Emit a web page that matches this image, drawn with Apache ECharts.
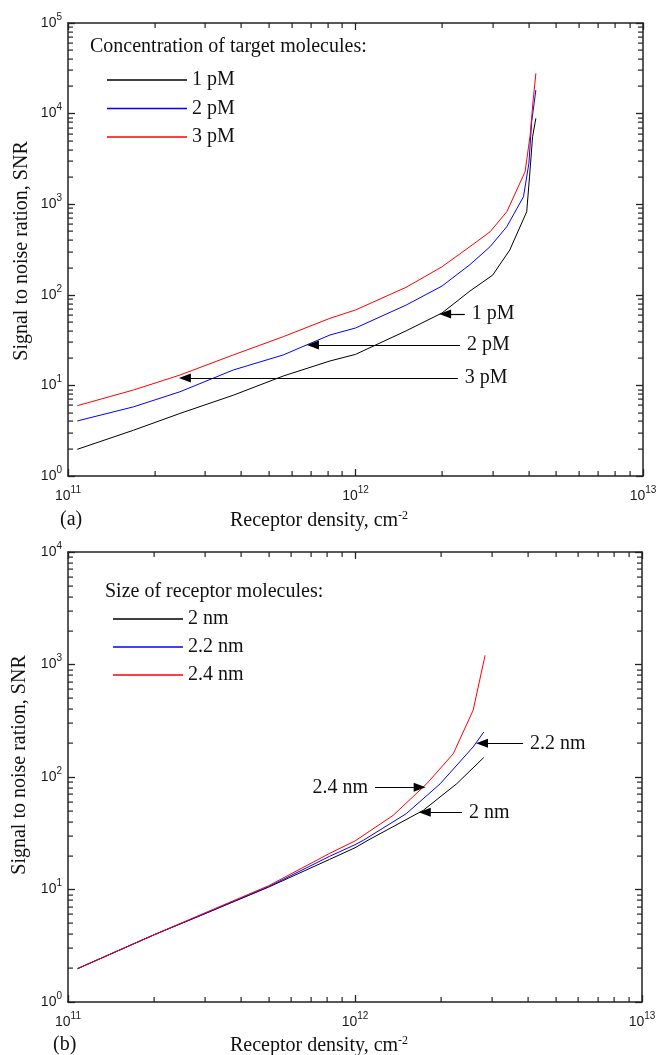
<!DOCTYPE html>
<html>
<head>
<meta charset="utf-8">
<script src="https://cdn.jsdelivr.net/npm/echarts@6/dist/echarts.min.js"></script>
<style>
  html, body { margin: 0; padding: 0; background: #fff; }
  #main { width: 657px; height: 1055px; }
</style>
</head>
<body>
<div id="main"></div>
<script>
// (a) concentration of target molecules
const aNames = ['1 pM', '2 pM', '3 pM']
const a1X = [1.077e11, 1.69e11, 2.45e11, 3.76e11, 5.61e11, 8.15e11, 1e12, 1.5e12, 2e12, 2.5e12, 3e12, 3.44e12, 3.94e12, 4.03e12, 4.13e12, 4.24e12]
const a1Y = [1.97, 3.2, 4.9, 7.8, 12.7, 18.6, 22, 40, 63, 110, 165, 312, 826, 2000, 5560, 8870]
const a2X = [1.077e11, 1.69e11, 2.45e11, 3.76e11, 5.61e11, 8.15e11, 1e12, 1.5e12, 2e12, 2.5e12, 2.94e12, 3.36e12, 3.84e12, 4.01e12, 4.10e12, 4.24e12]
const a2Y = [4.05, 5.8, 8.5, 14.8, 21.7, 36, 43, 77, 125, 215, 340, 565, 1210, 2830, 8140, 18200]
const a3X = [1.077e11, 1.69e11, 2.45e11, 3.76e11, 5.61e11, 8.15e11, 1e12, 1.5e12, 2e12, 2.5e12, 2.94e12, 3.36e12, 3.89e12, 4.05e12, 4.15e12, 4.24e12]
const a3Y = [5.97, 8.9, 13.0, 21.7, 34.5, 55, 68, 121, 204, 340, 497, 826, 2285, 5800, 14200, 27800]
// arrows: label, tip x, tail x, y
const aArrows = [
  ['1 pM', 2.05e12, 2.40e12, 61.4],
  ['2 pM', 7.11e11, 2.31e12, 27.9],
  ['3 pM', 2.55e11, 2.27e12, 12.07]
]

// (b) size of receptor molecules
const bNames = ['2 nm', '2.2 nm', '2.4 nm']
const b1X = [1.08e11, 2e11, 3e11, 5e11, 8.15e11, 1e12, 1.11e12, 1.73e12, 2.26e12, 2.81e12]
const b1Y = [1.98, 3.97, 6.1, 10.5, 18.5, 23.5, 27.4, 50.6, 87, 149]
const b2X = [1.08e11, 2e11, 3e11, 5e11, 8.15e11, 1e12, 1.07e12, 1.51e12, 1.98e12, 2.58e12, 2.81e12]
const b2Y = [1.98, 3.97, 6.1, 10.6, 19.7, 25, 27.4, 47.3, 87, 185, 251]
const b3X = [1.08e11, 2e11, 3e11, 5e11, 8.15e11, 1e12, 1.36e12, 1.78e12, 2.2e12, 2.58e12, 2.84e12]
const b3Y = [1.98, 3.97, 6.2, 10.8, 20.9, 27, 45.7, 87.4, 161, 392, 1208]
const bArrows = [
  ['2.2 nm', 2.77e12, 3.85e12, 199.5],
  ['2.4 nm', 1.68e12, 1.175e12, 81],
  ['2 nm', 1.75e12, 2.36e12, 48.6]
]

const minorSteps = [2, 3, 4, 5, 6, 7, 8, 9]
const colors = ['#000000', '#0000ff', '#ff0000']

const serif = '"Liberation Serif", "Times New Roman", serif'
const sans = '"Liberation Sans", Arial, sans-serif'
const frame = '#222'

function zip(xs, ys) {
  return xs.map((x, i) => [x, ys[i]])
}

function minorValues(from, to) {
  let out = []
  for (let k = from; k < to; k++) {
    minorSteps.forEach(m => out.push(m * Math.pow(10, k)))
  }
  return out
}

const powRich = {
  b: {fontFamily: sans, fontSize: 14, color: '#1a1a1a'},
  e: {fontFamily: sans, fontSize: 10, color: '#1a1a1a', padding: [0, 0, 12, 0]}
}
function powLabel(v) {
  return '{b|10}{e|' + Math.round(Math.log10(v)) + '}'
}

function logAxis(grid, pos, min, max, labels) {
  return {
    type: 'log',
    logBase: 10,
    gridIndex: grid,
    position: pos,
    min: min,
    max: max,
    axisLine: {show: true, onZero: false, lineStyle: {color: frame, width: 1.5}},
    axisTick: {show: true, inside: true, length: 7, lineStyle: {color: frame, width: 1.3}},
    axisLabel: {show: labels, margin: pos === 'left' ? 6 : 9, formatter: powLabel, rich: powRich},
    splitLine: {show: false}
  }
}

function arrowLines(list) {
  return list.map(a => {
    const pointsLeft = a[1] < a[2]
    const tip = {coord: [a[1], a[3]], symbol: 'triangle'}
    const tail = {coord: [a[2], a[3]], symbol: 'none'}
    if (pointsLeft) {
      tip.name = a[0]
      return [tip, tail]
    }
    tail.name = a[0]
    tail.label = {position: 'start'}
    return [tail, tip]
  })
}

function curve(name, xs, ys, axis, color, arrows) {
  let s = {
    name: name,
    type: 'line',
    xAxisIndex: axis,
    yAxisIndex: axis,
    data: zip(xs, ys),
    symbol: 'none',
    smooth: false,
    lineStyle: {color: color, width: 1},
    itemStyle: {color: color}
  }
  if (arrows) {
    s.markLine = {
      silent: true,
      symbolSize: [9, 12],
      lineStyle: {color: '#000', width: 1.2, type: 'solid'},
      itemStyle: {color: '#000'},
      label: {
        show: true,
        position: 'end',
        distance: 7,
        formatter: p => p.name,
        fontFamily: serif,
        fontSize: 20,
        color: '#111'
      },
      data: arrowLines(arrows)
    }
  }
  return s
}

function legendBox(names, left, top, width, gap) {
  return {
    data: names,
    orient: 'vertical',
    left: left,
    top: top,
    icon: 'rect',
    itemWidth: width,
    itemHeight: 1.4,
    itemGap: gap,
    selectedMode: false,
    textStyle: {fontFamily: serif, fontSize: 20, lineHeight: 20, color: '#111'}
  }
}

function txt(x, y, text, extra) {
  return {
    type: 'text',
    x: x,
    y: y,
    silent: true,
    rotation: (extra && extra.rotation) || 0,
    style: Object.assign({
      text: text,
      font: '20px ' + serif,
      fill: '#111',
      align: 'left',
      verticalAlign: 'middle'
    }, extra && extra.style)
  }
}

const titleRich = {
  t: {fontFamily: serif, fontSize: 20, color: '#111'},
  s: {fontFamily: serif, fontSize: 12, color: '#111', padding: [0, 0, 11, 0]}
}

const chart = echarts.init(document.getElementById('main'))
const option = {
  backgroundColor: '#fff',
  animation: false,
  grid: [
    {left: 68, top: 23, width: 575, height: 453, outerBoundsMode: 'none'},
    {left: 68, top: 552, width: 574, height: 450, outerBoundsMode: 'none'}
  ],
  xAxis: [
    logAxis(0, 'bottom', 1e11, 1e13, true),
    logAxis(0, 'top', 1e11, 1e13, false),
    logAxis(1, 'bottom', 1e11, 1e13, true),
    logAxis(1, 'top', 1e11, 1e13, false)
  ],
  yAxis: [
    logAxis(0, 'left', 1, 1e5, true),
    logAxis(0, 'right', 1, 1e5, false),
    logAxis(1, 'left', 1, 1e4, true),
    logAxis(1, 'right', 1, 1e4, false)
  ],
  legend: [
    legendBox(aNames, 102, 65, 80, 8.5),
    legendBox(bNames, 108, 604, 70, 8)
  ],
  series: [
    curve(aNames[0], a1X, a1Y, 0, colors[0], aArrows),
    curve(aNames[1], a2X, a2Y, 0, colors[1]),
    curve(aNames[2], a3X, a3Y, 0, colors[2]),
    curve(bNames[0], b1X, b1Y, 2, colors[0], bArrows),
    curve(bNames[1], b2X, b2Y, 2, colors[1]),
    curve(bNames[2], b3X, b3Y, 2, colors[2])
  ]
}
chart.setOption(option)

// minor log ticks on all four sides, placed through the axes' own scales
function bar(x, y, w, h) {
  return {type: 'rect', silent: true, z: 50, shape: {x: x, y: y, width: w, height: h}, style: {fill: frame}}
}
function minorTicks(axis, xVals, yVals, xr, yr) {
  let out = []
  const px = v => chart.convertToPixel({xAxisIndex: axis}, v)
  const py = v => chart.convertToPixel({yAxisIndex: axis}, v)
  const yb = py(yr[0]), yt = py(yr[1]), xl = px(xr[0]), xr2 = px(xr[1])
  xVals.forEach(v => {
    const x = Math.round(px(v)) - 0.5
    out.push(bar(x, yb - 5, 1.2, 5), bar(x, yt, 1.2, 5))
  })
  yVals.forEach(v => {
    const y = Math.round(py(v)) - 0.5
    out.push(bar(xl, y, 5, 1.2), bar(xr2 - 5, y, 5, 1.2))
  })
  return out
}

const texts = [
  txt(90, 47, 'Concentration of target molecules:'),
  txt(105, 592, 'Size of receptor molecules:'),
  txt(60, 520, '(a)'),
  txt(53, 1045, '(b)'),
  txt(230, 521, '', {style: {text: '{t|Receptor density, cm}{s|-2}', rich: titleRich}}),
  txt(230, 1046, '', {style: {text: '{t|Receptor density, cm}{s|-2}', rich: titleRich}}),
  txt(22, 251, 'Signal to noise ration, SNR', {rotation: Math.PI / 2, style: {align: 'center'}}),
  txt(20, 765, 'Signal to noise ration, SNR', {rotation: Math.PI / 2, style: {align: 'center'}})
]

const ticksA = minorTicks(0, minorValues(11, 13), minorValues(0, 5), [1e11, 1e13], [1, 1e5])
const ticksB = minorTicks(2, minorValues(11, 13), minorValues(0, 4), [1e11, 1e13], [1, 1e4])

chart.setOption({
  graphic: ticksA.concat(ticksB, texts)
})
</script>
</body>
</html>
